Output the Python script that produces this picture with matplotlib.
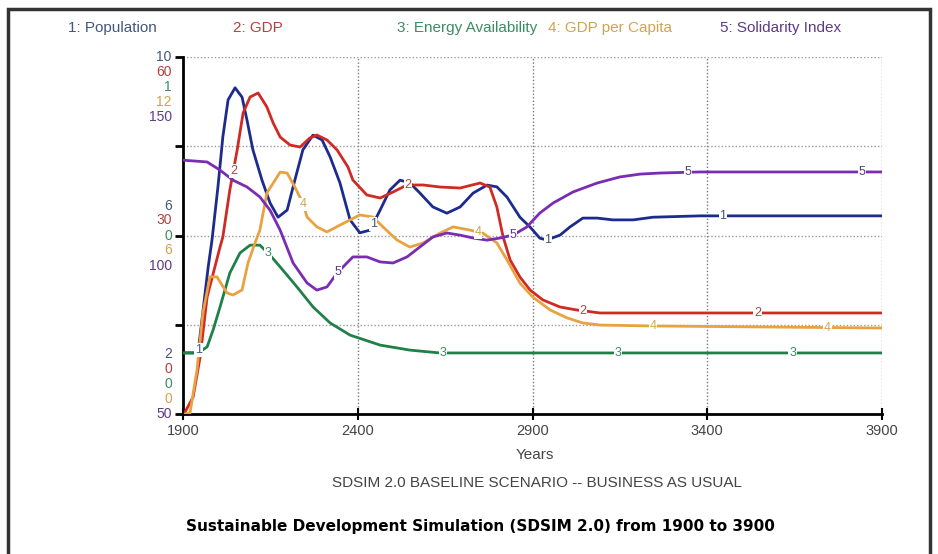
import numpy as np
import matplotlib.pyplot as plt
from matplotlib.patches import Rectangle

# values (each series in its own units)
years_pop = [1900, 1943, 1972, 1983, 2000, 2014, 2029, 2049, 2069, 2083, 2100, 2126, 2149, 2172,
             2198, 2220, 2243, 2272, 2298, 2321, 2349, 2378, 2406, 2435, 2464, 2492, 2521, 2549,
             2578, 2615, 2655, 2693, 2730, 2770, 2798, 2827, 2864, 2893, 2921, 2941, 2979, 3007,
             3044, 3085, 3130, 3188, 3245, 3379, 3900]
population = [3.37, 3.37, 5.29, 5.90, 7.09, 8.21, 9.04, 9.31, 9.10, 8.59, 7.92, 7.24, 6.73, 6.41,
              6.57, 7.24, 7.92, 8.25, 8.14, 7.76, 7.18, 6.35, 6.06, 6.12, 6.57, 7.02, 7.24, 7.18,
              6.95, 6.64, 6.50, 6.64, 6.95, 7.13, 7.09, 6.86, 6.41, 6.19, 5.94, 5.90, 6.01, 6.19,
              6.39, 6.39, 6.35, 6.35, 6.41, 6.44, 6.44]

years_gdp = [1906, 1929, 1949, 1969, 2006, 2014, 2034, 2055, 2072, 2092, 2115, 2140, 2158, 2178,
             2206, 2235, 2263, 2283, 2312, 2341, 2372, 2386, 2426, 2464, 2501, 2541, 2587, 2635,
             2693, 2750, 2778, 2798, 2816, 2836, 2864, 2893, 2930, 2979, 3027, 3093, 3900]
gdp = [0.34, 2.86, 9.58, 19.66, 28.07, 29.75, 37.65, 44.37, 50.59, 53.28, 53.95, 51.60, 48.91,
       46.55, 45.21, 44.87, 46.39, 46.89, 46.05, 44.37, 41.51, 39.33, 36.81, 36.30, 37.31, 38.49,
       38.49, 38.15, 37.98, 38.82, 38.15, 34.79, 29.75, 25.88, 23.03, 20.84, 19.16, 17.98, 17.48,
       16.98, 16.98]

years_energy = [1900, 1943, 1969, 1986, 2006, 2034, 2063, 2092, 2120, 2149, 2178, 2226, 2272,
                2321, 2378, 2464, 2549, 2635, 3900]
energy = [0.171, 0.171, 0.188, 0.235, 0.300, 0.395, 0.451, 0.473, 0.473, 0.445, 0.412, 0.356,
          0.300, 0.255, 0.221, 0.193, 0.179, 0.171, 0.171]

years_gdppc = [1906, 1920, 1940, 1957, 1977, 1997, 2026, 2043, 2069, 2086, 2106, 2120, 2140,
               2178, 2198, 2220, 2243, 2255, 2283, 2312, 2349, 2406, 2444, 2472, 2512, 2549,
               2587, 2635, 2673, 2721, 2758, 2798, 2827, 2864, 2901, 2950, 2999, 3044, 3093,
               3236, 3900]
gdp_per_capita = [0.0, 0.03, 1.48, 3.39, 4.61, 4.61, 4.07, 4.00, 4.17, 5.08, 5.75, 6.18, 7.43,
                  8.13, 8.10, 7.63, 7.09, 6.62, 6.29, 6.12, 6.35, 6.69, 6.62, 6.29, 5.85, 5.61,
                  5.75, 6.08, 6.29, 6.18, 6.08, 5.75, 5.18, 4.40, 3.93, 3.50, 3.23, 3.06, 2.99,
                  2.96, 2.89]

years_sol = [1900, 1969, 2006, 2043, 2083, 2120, 2149, 2178, 2215, 2255, 2283, 2312, 2341, 2369,
             2386, 2426, 2464, 2501, 2541, 2578, 2615, 2655, 2693, 2730, 2770, 2807, 2844, 2884,
             2921, 2959, 3016, 3085, 3150, 3208, 3265, 3379, 3900]
solidarity = [121.1, 120.6, 118.3, 115.5, 113.6, 110.8, 107.1, 101.5, 92.3, 86.7, 84.7, 85.6,
              89.5, 92.3, 94.0, 94.0, 92.6, 92.3, 94.0, 96.8, 99.6, 100.7, 100.1, 99.3, 98.7,
              99.3, 100.1, 102.4, 106.3, 109.1, 112.2, 114.7, 116.4, 117.2, 117.5, 117.8, 117.8]

names = ["1: Population", "2: GDP", "3: Energy Availability", "4: GDP per Capita",
         "5: Solidarity Index"]
scale_lo = [2, 0, 0, 0, 50]
scale_hi = [10, 60, 1, 12, 150]
scale_mid = ["6", "30", "0", "6", "100"]
scale_bottom = ["2", "0", "0", "0", "50"]
x_ticks = [1900, 2400, 2900, 3400, 3900]

line_colors = ["#1c2b8c", "#d02a24", "#1f8048", "#e8a241", "#7a2cb4"]
text_colors = ["#44557f", "#b2413f", "#3a8c63", "#cfa452", "#5e3a86"]

series = [(years_pop, population), (years_gdp, gdp), (years_energy, energy),
          (years_gdppc, gdp_per_capita), (years_sol, solidarity)]

plt.rcParams['font.family'] = ['Liberation Sans', 'DejaVu Sans']
narrow = ['Liberation Sans Narrow', 'Liberation Sans']

fig = plt.figure(figsize=(9.38, 5.54), dpi=100)

# outer frame
fig.patches.append(Rectangle((8 / 938, -0.05), 922 / 938, 1.05 - 9 / 554, transform=fig.transFigure,
                             fill=False, edgecolor="#333333", linewidth=2.5))

ax = fig.add_axes([183 / 938, 1 - 414 / 554, 699 / 938, 357 / 554])
ax.set_xlim(1900, 3900)
ax.set_ylim(0, 1)

# dotted grid
for xv in x_ticks[1:]:
    ax.axvline(xv, color="#777777", linestyle=(0, (1, 1.5)), linewidth=1, zorder=1)
for yv in [0.25, 0.5, 0.75, 1.0]:
    ax.axhline(yv, color="#999999", linestyle=(0, (1, 1.5)), linewidth=1, zorder=1)

for i, (xs, ys) in enumerate(series):
    norm = (np.array(ys) - scale_lo[i]) / (scale_hi[i] - scale_lo[i])
    ax.plot(xs, norm, color=line_colors[i], linewidth=2, zorder=3,
            solid_joinstyle="round", solid_capstyle="round")
    # numbered markers along each curve
    for k in range(4):
        yr = 1944 + 100 * i + 500 * k
        yy = np.interp(yr, xs, norm)
        ax.text(yr, yy, str(i + 1), color=text_colors[i], fontsize=9, ha="center", va="center",
                zorder=4, bbox=dict(boxstyle="square,pad=0.05", fc="white", ec="none"))

for s in ["top", "right"]:
    ax.spines[s].set_visible(False)
for s in ["left", "bottom"]:
    ax.spines[s].set_linewidth(2)
    ax.spines[s].set_color("black")

ax.set_xticks(x_ticks)
ax.set_xticklabels([str(v) for v in x_ticks], color="#444444", fontsize=10.5, family=narrow)
ax.tick_params(axis="x", direction="inout", length=9, width=1.5, pad=3)
ax.set_yticks([0, 0.25, 0.5, 0.75, 1.0])
ax.set_yticklabels([])
ax.tick_params(axis="y", direction="out", length=6, width=2)

# stacked scale labels
step = 15 / 357
for i in range(5):
    ax.text(-0.016, 1 - step * i, str(scale_hi[i]), transform=ax.transAxes, color=text_colors[i],
            fontsize=10, ha="right", va="center")
    ax.text(-0.016, 0.5 + step * (2 - i), scale_mid[i], transform=ax.transAxes,
            color=text_colors[i], fontsize=10, ha="right", va="center")
    ax.text(-0.016, step * (4 - i), scale_bottom[i], transform=ax.transAxes,
            color=text_colors[i], fontsize=10, ha="right", va="center")

# legend row
legend_x = [68, 233, 397, 548, 720]
for i in range(5):
    fig.text(legend_x[i] / 938, 1 - 28 / 554, names[i], color=text_colors[i], fontsize=11,
             ha="left", va="center")

fig.text(535 / 938, 1 - 455 / 554, "Years", color="#444444", fontsize=11, ha="center",
         va="center", family=narrow)
fig.text(537 / 938, 1 - 483 / 554, "SDSIM 2.0 BASELINE SCENARIO -- BUSINESS AS USUAL",
         color="#444444", fontsize=11, ha="center", va="center")
fig.text(480 / 938, 1 - 527 / 554, "Sustainable Development Simulation (SDSIM 2.0) from 1900 to 3900",
         color="black", fontsize=11, fontweight="bold", ha="center", va="center",
         family=['DejaVu Sans'])

fig.savefig("out.png", dpi=100)
